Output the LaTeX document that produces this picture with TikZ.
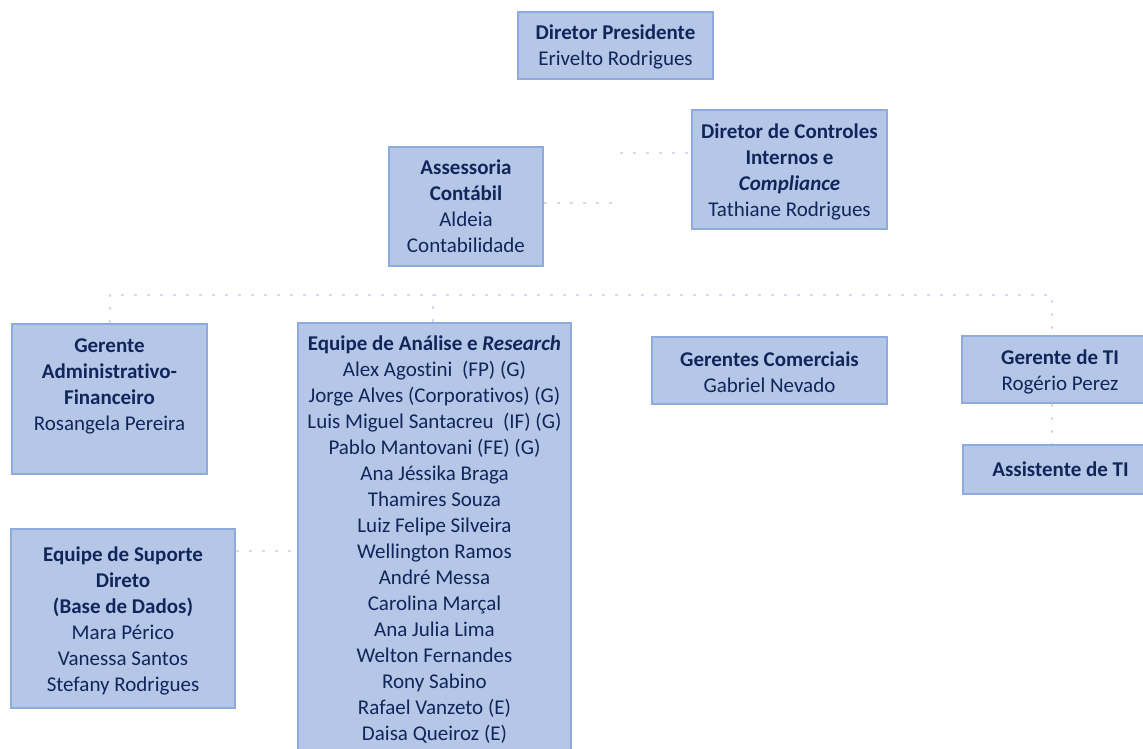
\documentclass[tikz,border=0pt]{standalone}
\usepackage{fontspec}
\setmainfont{Carlito}[Ligatures=NoCommon]
\definecolor{boxfill}{HTML}{B4C7E7}
\definecolor{boxline}{HTML}{8FAADC}
\definecolor{txtc}{HTML}{13245A}
\definecolor{conncol}{HTML}{D2DCF0}
\newcommand\orgfont{\fontsize{21}{26}\selectfont}
\tikzset{
  orgbox/.style={draw=boxline, fill=boxfill, line width=1.3pt, inner sep=0pt, rectangle},
  orgtxt/.style={align=center, inner sep=0pt, anchor=north, text=txtc, font=\orgfont},
  conn/.style={draw=conncol, line width=1.6pt, dash pattern=on 3pt off 10pt}
}
\begin{document}
\begin{tikzpicture}[x=1pt,y=-1pt]
\useasboundingbox (0,0) rectangle (1143,749);
\clip (0,0) rectangle (1143,749);
\fill[white] (0,0) rectangle (1143,749);

% boxes
\node[orgbox, minimum width=195pt, minimum height=67pt] (pres) at (615.5,45.5) {};
\node[orgbox, minimum width=195pt, minimum height=119pt] (ctrl) at (789.5,169.5) {};
\node[orgbox, minimum width=154pt, minimum height=119pt] (asse) at (466,206.5) {};
\node[orgbox, minimum width=195pt, minimum height=150pt] (gadm) at (109.5,399) {};
\node[orgbox, minimum width=273pt, minimum height=437pt] (equi) at (434.5,541.5) {};
\node[orgbox, minimum width=235pt, minimum height=67pt] (gcom) at (769.5,370.5) {};
\node[orgbox, minimum width=196pt, minimum height=67pt] (gti) at (1060,369.5) {};
\node[orgbox, minimum width=195pt, minimum height=49pt] (asti) at (1060.5,469.5) {};
\node[orgbox, minimum width=224pt, minimum height=179pt] (esup) at (123,618.5) {};

% texts
\node[orgtxt] (presT) at (615.5,21.5) {\strut\textbf{Diretor Presidente}\\Erivelto Rodrigues};
\node[orgtxt] (ctrlT) at (789.5,120.5) {\strut\textbf{Diretor de Controles}\\\textbf{Internos e}\\\textbf{\textit{Compliance}}\\Tathiane Rodrigues};
\node[orgtxt] (asseT) at (466,156.5) {\strut\textbf{Assessoria}\\\textbf{Contábil}\\Aldeia\\Contabilidade};
\node[orgtxt] (gadmT) at (109.5,334.5) {\strut\textbf{Gerente}\\\textbf{Administrativo-}\\\textbf{Financeiro}\\Rosangela Pereira};
\node[orgtxt] (equiT) at (434.5,332.5) {\strut\textbf{Equipe de Análise e \textit{Research}}\\Alex Agostini\ \ (FP) (G)\\Jorge Alves (Corporativos) (G)\\Luis Miguel Santacreu\ \ (IF) (G)\\Pablo Mantovani (FE) (G)\\Ana Jéssika Braga\\Thamires Souza\\Luiz Felipe Silveira\\Wellington Ramos\\André Messa\\Carolina Marçal\\Ana Julia Lima\\Welton Fernandes\\Rony Sabino\\Rafael Vanzeto (E)\\Daisa Queiroz (E)};
\node[orgtxt] (gcomT) at (769.5,348.5) {\strut\textbf{Gerentes Comerciais}\\Gabriel Nevado};
\node[orgtxt] (gtiT) at (1060,346.5) {\strut\textbf{Gerente de TI}\\Rogério Perez};
\node[orgtxt] (astiT) at (1060.5,458.5) {\strut\textbf{Assistente de TI}};
\node[orgtxt] (esupT) at (123,543.5) {\strut\textbf{Equipe de Suporte}\\\textbf{Direto}\\\textbf{(Base de Dados)}\\Mara Périco\\Vanessa Santos\\Stefany Rodrigues};

% connectors
\coordinate (hL) at (110,295);
\coordinate (hR) at (1052,295);
\coordinate (sy) at (0,551);
\coordinate (ay) at (618,203);
\coordinate (cy) at (620,153);
\draw[conn] (gadm.north -| hL) -- (hL) -- (hR) -- (hR |- gti.north);
\draw[conn] (equi.north -| 433,0) -- (433,295);
\draw[conn] (gti.south -| hR) -- (asti.north -| hR);
\draw[conn] (esup.east |- sy) -- (equi.west |- sy);
\draw[conn] (asse.east |- ay) -- (ay);
\draw[conn] (cy) -- (ctrl.west |- cy);
\end{tikzpicture}
\end{document}
